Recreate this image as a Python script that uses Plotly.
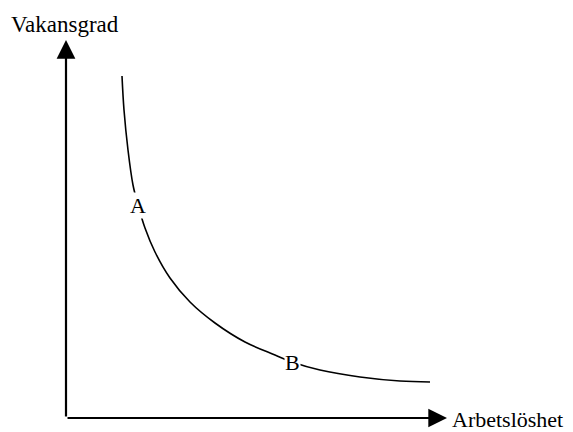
import plotly.graph_objects as go

# Beveridge curve (arbitrary units)
unemployment = [56, 58, 62, 67, 72, 79, 89, 104, 124, 149, 179, 209, 226, 254, 294, 334, 364]
vacancy = [342, 308, 268, 233, 213, 190, 166, 140, 116, 95, 76, 63, 56, 48, 41, 37, 36]

point_labels = ["A", "B"]
point_x = [72, 226]
point_y = [213, 56]

x_title = "Arbetslöshet"
y_title = "Vakansgrad"

XMAX, YMAX = 381, 378
FONT = "Liberation Serif, Times New Roman, serif"

fig = go.Figure()
fig.add_trace(go.Scatter(x=unemployment, y=vacancy, mode="lines",
                         line=dict(color="black", width=1.6, shape="spline"),
                         hoverinfo="skip", showlegend=False))

# axes with arrows
fig.add_annotation(x=XMAX, y=0, ax=0, ay=0, xref="x", yref="y", axref="x", ayref="y",
                   showarrow=True, arrowhead=2, arrowsize=1.7, arrowwidth=2.2,
                   arrowcolor="black", text="", standoff=0)
fig.add_annotation(x=0, y=YMAX, ax=0, ay=0, xref="x", yref="y", axref="x", ayref="y",
                   showarrow=True, arrowhead=2, arrowsize=1.7, arrowwidth=2.2,
                   arrowcolor="black", text="", standoff=0)

for t, px, py in zip(point_labels, point_x, point_y):
    fig.add_annotation(x=px, y=py, text=t, showarrow=False, bgcolor="white",
                       font=dict(family=FONT, size=22, color="black"), borderpad=0)

fig.add_annotation(x=-0.003, y=1.042, xref="paper", yref="paper", text=y_title,
                   showarrow=False, xanchor="center", yanchor="middle",
                   font=dict(family=FONT, size=23, color="black"))
fig.add_annotation(x=1.0105, y=-0.005, xref="paper", yref="paper", text=x_title,
                   showarrow=False, xanchor="left", yanchor="middle",
                   font=dict(family=FONT, size=22, color="black"), borderpad=0)

fig.update_xaxes(range=[0, XMAX], visible=False, fixedrange=True)
fig.update_yaxes(range=[0, YMAX], visible=False, fixedrange=True)
fig.update_layout(width=573, height=432, margin=dict(l=58, r=134, t=32, b=22),
                  plot_bgcolor="white", paper_bgcolor="white", showlegend=False)

fig.write_html("out.html")
